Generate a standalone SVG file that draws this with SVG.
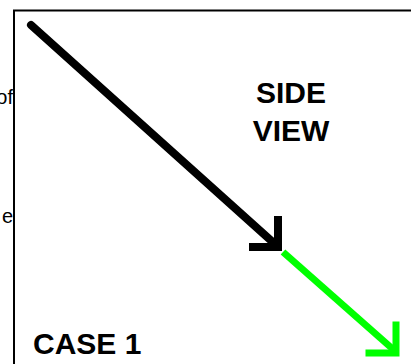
<svg xmlns="http://www.w3.org/2000/svg" width="411" height="364" viewBox="0 0 411 364">
<style>
.lbl{font-family:"Liberation Sans",Arial,sans-serif;fill:#000}
.big{font-size:30px;font-weight:bold}
.side{font-size:20px}
.blk{stroke:#000;stroke-width:8;fill:none}
.grn{stroke:#00ff00;stroke-width:7;fill:none}
</style>
<rect width="411" height="364" fill="#fff"/>
<g id="frame"><rect x="14" y="10.5" width="420" height="400" fill="none" stroke="#000" stroke-width="2"/></g>
<g id="side-text">
<text class="lbl side" x="13" y="104" text-anchor="end">of</text>
<text class="lbl side" x="13" y="223" text-anchor="end">e</text>
</g>
<g id="title">
<text class="lbl big" x="291" y="103" text-anchor="middle">SIDE</text>
<text class="lbl big" x="291" y="141" text-anchor="middle">VIEW</text>
</g>
<g id="case"><text class="lbl big" x="33" y="354">CASE 1</text></g>
<g id="connectors">
<path class="blk" d="M31,25 L276,245" stroke-linecap="round"/>
<path class="blk" d="M253,247 L278,247 L278,220" stroke-linecap="square"/>
<path class="grn" d="M283,252 L395,351"/>
<path class="grn" d="M369,353 L396,353 L396,325" stroke-linecap="square"/>
</g>
</svg>
